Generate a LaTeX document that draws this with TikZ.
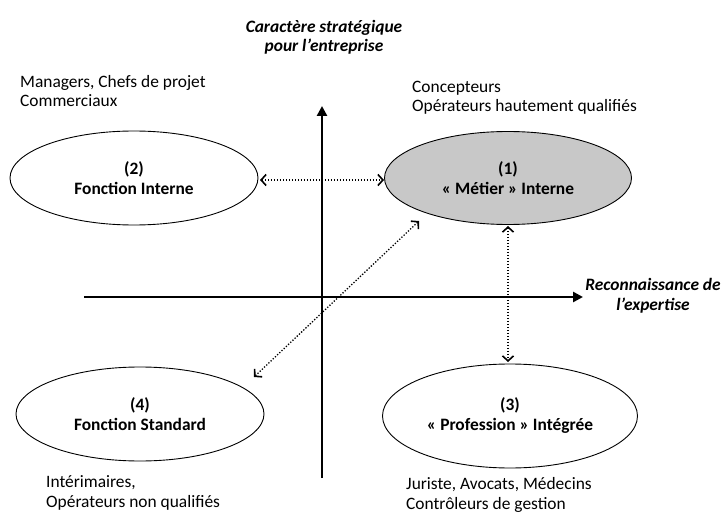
\documentclass[tikz,border=0pt]{standalone}
\usepackage{fontspec}
\setmainfont{Carlito}
\usetikzlibrary{arrows.meta,shapes.geometric}
\begin{document}
\begin{tikzpicture}[x=1pt,y=-1pt,
  txt/.style={font=\fontsize{17.4}{19.5}\selectfont, align=left, inner sep=0pt, anchor=base west},
  ttl/.style={font=\fontsize{17.4}{19.5}\selectfont\bfseries\itshape, align=center, inner sep=0pt, anchor=base},
  ell/.style={ellipse, draw=black, line width=0.9pt, minimum width=#1, font=\fontsize{17.4}{20}\selectfont\bfseries, align=center, inner sep=0pt},
  axis/.style={line width=2.8pt, -{Triangle[length=10pt,width=10pt]}},
  rel/.style={line width=1.3pt, dash pattern=on 1.3pt off 1.7pt, {Straight Barb[length=5pt,width=11pt,line width=1.6pt]}-{Straight Barb[length=5pt,width=11pt,line width=1.6pt]}}]
\useasboundingbox (0,0) rectangle (723,513);
% axes
\coordinate (vb) at (322,478);
\coordinate (vt) at (322,106);
\coordinate (hl) at (84,297);
\coordinate (hr) at (583,297);
\draw[axis] (vb) -- (vt);
\draw[axis] (hl) -- (hr);
\node[ttl] (ytitle) at (324,52) {Caractère stratégique\\pour l’entreprise};
\node[ttl] (xtitle) at (653,310) {Reconnaissance de\\l’expertise};
% ellipses
\node[ell=248pt, minimum height=94pt] (e2) at (134,178) {(2)\\Fonction Interne};
\node[ell=247pt, minimum height=93pt, fill={rgb,255:red,200;green,200;blue,200}] (e1) at (508,178) {(1)\\« Métier » Interne};
\node[ell=248pt, minimum height=94pt] (e4) at (140,414) {(4)\\Fonction Standard};
\node[ell=255pt, minimum height=104pt] (e3) at (510,416) {(3)\\« Profession » Intégrée};
% labels
\node[txt] (l2) at (20,107) {Managers, Chefs de projet\\Commerciaux};
\node[txt] (l1) at (412,112) {Concepteurs\\Opérateurs hautement qualifiés};
\node[txt] (l4) at (46,507) {Intérimaires,\\Opérateurs non qualifiés};
\node[txt] (l3) at (406,509) {Juriste, Avocats, Médecins\\Contrôleurs de gestion};
% relations
\coordinate (a1) at (260,180);
\coordinate (a2) at (384,180);
\draw[rel] (a1) -- (a2);
\coordinate (d1) at (254,377);
\coordinate (d2) at (419,221);
\draw[rel] (d1) -- (d2);
\coordinate (v1) at (508,226);
\coordinate (v2) at (508,362);
\draw[rel] (v1) -- (v2);
\end{tikzpicture}
\end{document}
